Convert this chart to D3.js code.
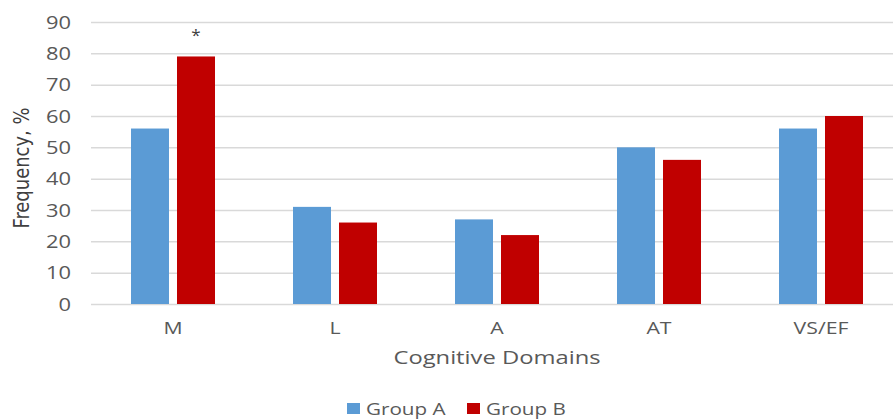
<!DOCTYPE html>
<html><head><meta charset="utf-8">
<script src="https://cdn.jsdelivr.net/npm/d3@7"></script>
<style>body{margin:0;background:#fff}svg{display:block}</style>
</head><body>
<script>
const categories = ["M","L","A","AT","VS/EF"];
const groups = ["Group A","Group B"];
const groupA = [56,31,27,50,56];
const groupB = [79,26,22,46,60];
const yTicks = [0,10,20,30,40,50,60,70,80,90];
const annotations = [{cat:"M", group:"Group B", text:"*"}];
const colors = {"Group A":"#5B9BD5","Group B":"#C00000"};

const W = 893, H = 419;
const svg = d3.select("body").append("svg").attr("width",W).attr("height",H);
const font = "'Open Sans', sans-serif";
const STRETCH = 1.25;
function stretch(sel){
  sel.each(function(){
    const n = this.getComputedTextLength();
    d3.select(this).attr("textLength", n*STRETCH).attr("lengthAdjust","spacingAndGlyphs");
  });
}

const y = d3.scaleLinear().domain([0,90]).range([304,22]);
const x0 = d3.scaleBand().domain(categories).range([92,902]).padding(0);
const x1 = d3.scaleBand().domain(groups).range([39,123]).paddingInner(0.174).paddingOuter(0);

// gridlines
const yAxis = d3.axisLeft(y).tickValues(yTicks).tickSize(-(W-91)).tickPadding(20);
const gy = svg.append("g").attr("transform","translate(91,0)").call(yAxis);
gy.select(".domain").remove();
gy.selectAll(".tick line").attr("stroke","#d9d9d9").attr("stroke-width",1.5);
gy.selectAll(".tick text").attr("font-family",font).attr("font-size",17.5).attr("fill","#595959")
  .attr("dy","0.36em").call(stretch);

// bars
const data = categories.map((c,i)=>({cat:c, vals:[{g:"Group A",v:groupA[i]},{g:"Group B",v:groupB[i]}]}));
const cg = svg.append("g").selectAll("g").data(data).join("g")
  .attr("transform",d=>`translate(${x0(d.cat)},0)`);
cg.selectAll("rect").data(d=>d.vals).join("rect")
  .attr("x",d=>x1(d.g)).attr("width",x1.bandwidth())
  .attr("y",d=>y(d.v)).attr("height",d=>y(0)-y(d.v))
  .attr("fill",d=>colors[d.g]);

// annotations
svg.selectAll(".ann").data(annotations).join("text")
  .attr("x",d=>x0(d.cat)+x1(d.group)+x1.bandwidth()/2)
  .attr("y",41).attr("text-anchor","middle")
  .attr("font-family",font).attr("font-size",17).attr("fill","#404040")
  .text(d=>d.text);

// x axis labels
const xAxis = d3.axisBottom(x0).tickSize(0).tickPadding(0);
const gx = svg.append("g").attr("transform","translate(0,304)").call(xAxis);
gx.select(".domain").remove();
gx.selectAll(".tick text").attr("font-family",font).attr("font-size",17).attr("fill","#595959")
  .attr("y",30).attr("dy",0).call(stretch);

// axis titles
svg.append("text").attr("x",497).attr("y",364).attr("text-anchor","middle")
  .attr("font-family",font).attr("font-size",19).attr("fill","#595959").text("Cognitive Domains").call(stretch);
svg.append("text").attr("transform","translate(29,168) scale(1.25,1) rotate(-90)").attr("text-anchor","middle")
  .attr("font-family","'DejaVu Sans Condensed', 'DejaVu Sans', sans-serif").attr("font-size",17.5).attr("fill","#404040")
  .attr("textLength",121).attr("lengthAdjust","spacingAndGlyphs")
  .text("Frequency, %");

// legend
const legX = [347,467];
const lg = svg.append("g").selectAll("g").data(groups).join("g")
  .attr("transform",(d,i)=>`translate(${legX[i]},403)`);
lg.append("rect").attr("width",13).attr("height",11).attr("fill",d=>colors[d]);
lg.append("text").attr("x",19).attr("y",11.5).attr("font-family",font).attr("font-size",16.5)
  .attr("fill","#595959").text(d=>d).call(stretch);
</script>
</body></html>
